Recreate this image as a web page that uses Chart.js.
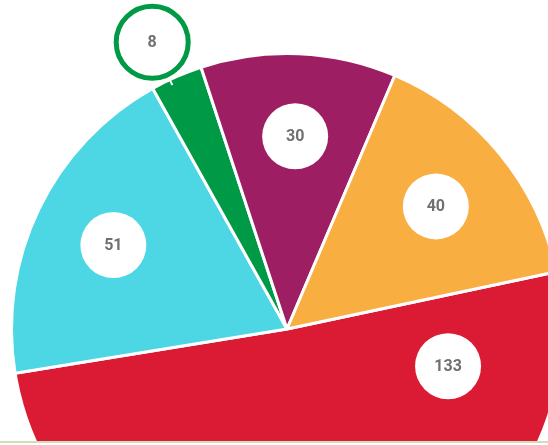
<!DOCTYPE html>
<html>
<head>
<meta charset="utf-8">
<script src="https://cdn.jsdelivr.net/npm/chart.js@4.4.1/dist/chart.umd.min.js"></script>
<style>
  html, body { margin: 0; padding: 0; background: #fff; overflow: hidden; }
  #frame { position: relative; width: 548px; height: 441px; overflow: hidden; border-bottom: 2px solid #cfe0b8; }
  #pie { position: absolute; left: 0; top: 0; }
</style>
</head>
<body>
<div id="frame"><canvas id="pie" width="574" height="662"></canvas></div>
<script>
const categories = ['A', 'B', 'C', 'D', 'E'];
const values = [133, 51, 8, 30, 40];
const colors = ['#db1a33', '#4dd6e3', '#009a46', '#9e1e63', '#f8ae41'];

// bubble labels drawn on top of each arc
const bubbleLabels = {
  id: 'bubbleLabels',
  afterDatasetsDraw(chart) {
    const ctx = chart.ctx;
    const arcs = chart.getDatasetMeta(0).data;
    arcs.forEach((arc, i) => {
      const p = arc.getProps(['x', 'y', 'startAngle', 'endAngle', 'outerRadius'], true);
      let ang = (p.startAngle + p.endAngle) / 2;
      let dist = p.outerRadius * 0.7;
      let outside = false;
      if (i === 0) { ang = p.startAngle + 25 * Math.PI / 180; dist = p.outerRadius * 0.6; }
      if (values[i] < 10) { ang -= 1.5 * Math.PI / 180; dist = p.outerRadius * 1.15; outside = true; }
      const cx = p.x + Math.cos(ang) * dist;
      const cy = p.y + Math.sin(ang) * dist;
      ctx.save();
      if (outside) {
        // white connector into the slice
        ctx.strokeStyle = '#fff';
        ctx.lineWidth = 2;
        ctx.beginPath();
        ctx.moveTo(cx + Math.cos(ang) * 36, cy + Math.sin(ang) * 36);
        ctx.lineTo(p.x + Math.cos(ang) * (p.outerRadius - 6), p.y + Math.sin(ang) * (p.outerRadius - 6));
        ctx.stroke();
        ctx.beginPath();
        ctx.arc(cx, cy, 36, 0, Math.PI * 2);
        ctx.fillStyle = '#fff';
        ctx.fill();
        ctx.lineWidth = 5;
        ctx.strokeStyle = colors[i];
        ctx.stroke();
      } else {
        ctx.beginPath();
        ctx.arc(cx, cy, 33, 0, Math.PI * 2);
        ctx.fillStyle = '#fff';
        ctx.fill();
      }
      ctx.fillStyle = '#707070';
      ctx.font = 'bold 16px Roboto, "Liberation Sans", sans-serif';
      ctx.textAlign = 'center';
      ctx.textBaseline = 'middle';
      ctx.fillText(String(values[i]), cx, cy + 1);
      ctx.restore();
    });
  }
};

new Chart(document.getElementById('pie'), {
  type: 'pie',
  data: {
    labels: categories,
    datasets: [{
      data: values,
      backgroundColor: colors,
      borderColor: '#fff',
      borderWidth: 3
    }]
  },
  options: {
    responsive: false,
    animation: false,
    rotation: 78,
    layout: { padding: { left: 8, right: 8, top: 52, bottom: 56 } },
    plugins: {
      legend: { display: false },
      tooltip: { enabled: false }
    }
  },
  plugins: [bubbleLabels]
});
</script>
</body>
</html>
